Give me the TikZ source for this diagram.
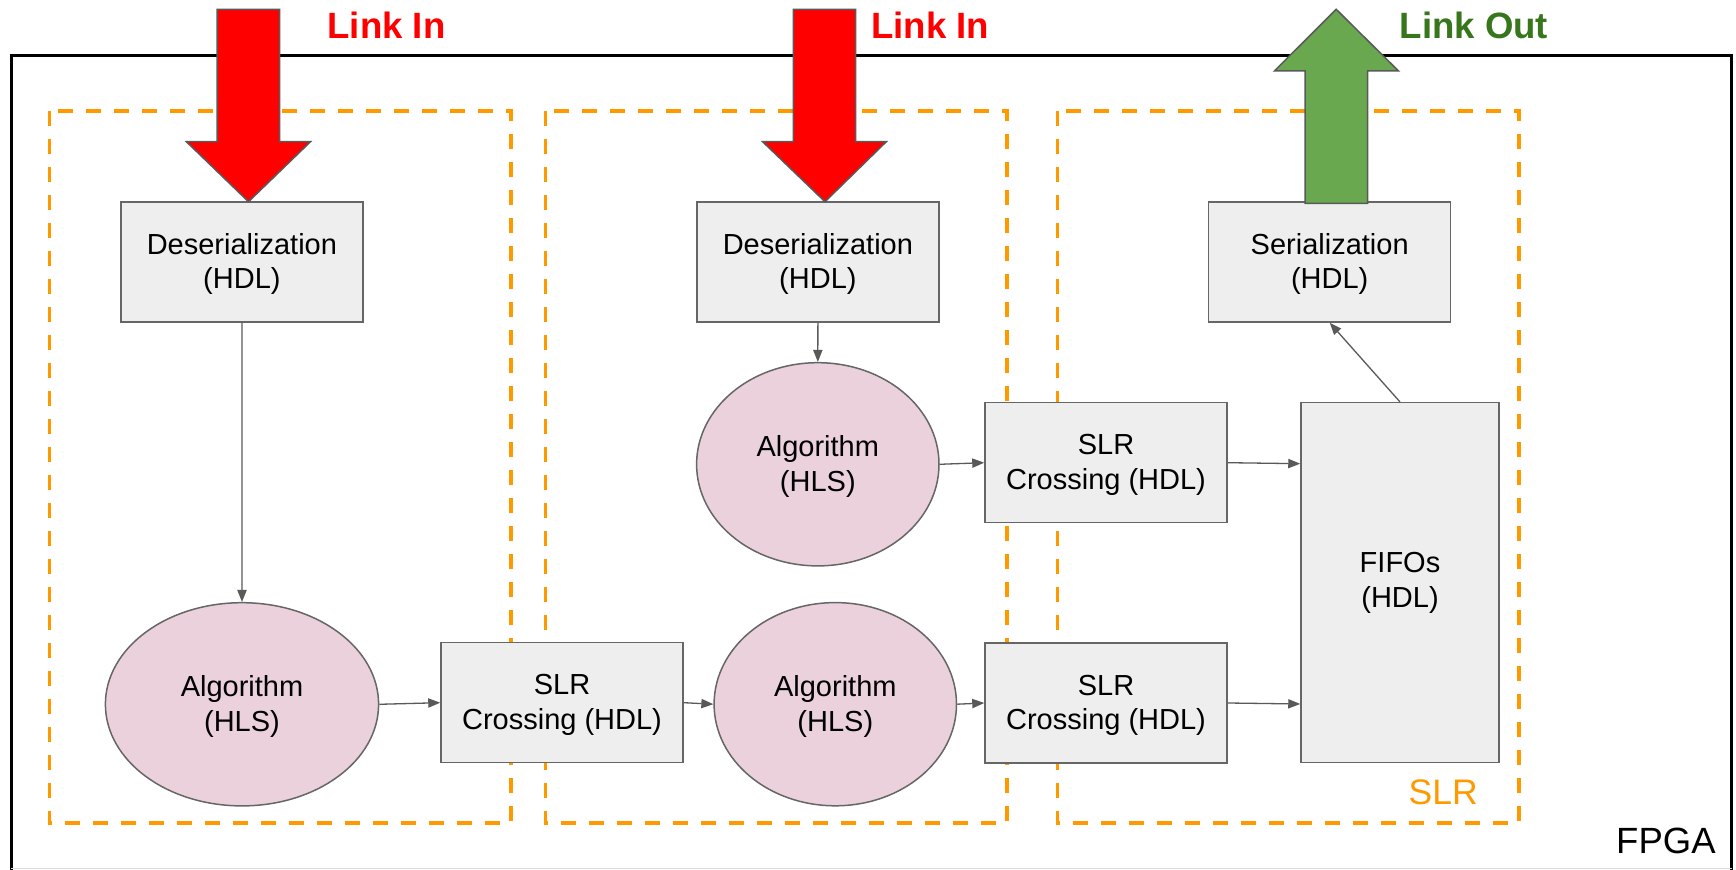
\documentclass[tikz,border=0pt]{standalone}
\usepackage{fontspec}
\setmainfont{Liberation Sans}
\usetikzlibrary{arrows.meta,shapes.geometric}

\definecolor{boxfill}{HTML}{EEEEEE}
\definecolor{boxline}{HTML}{666666}
\definecolor{ellfill}{HTML}{EAD1DC}
\definecolor{linegray}{HTML}{595959}
\definecolor{slrorange}{HTML}{FF9900}
\definecolor{linkred}{HTML}{FF0000}
\definecolor{outfill}{HTML}{6AA84F}
\definecolor{outtext}{HTML}{38761D}

\newcommand\blockfont{\fontsize{14.5}{17.4}\selectfont}
\newcommand\linkfont{\fontsize{18.3}{22}\selectfont\bfseries}
% taller first line so that two-line labels sit centred on their caps
\newcommand\toplift{\rule{0pt}{12.5pt}}

\begin{document}
\begin{tikzpicture}[x=0.5pt,y=-0.5pt,
  blockbox/.style={draw=boxline, fill=boxfill, line width=0.75pt,
    minimum width=121pt, minimum height=60pt, inner sep=0pt,
    align=center, font=\blockfont},
  algell/.style={ellipse, draw=boxline, fill=ellfill, line width=0.75pt,
    inner sep=0pt, minimum width=121.2pt, minimum height=101.6pt,
    align=center, font=\blockfont},
  flow/.style={draw=linegray, line width=0.65pt,
    -{Triangle[length=6pt,width=4.6pt]}},
  slrbox/.style={draw=slrorange, line width=1.8pt,
    dash pattern=on 7.5pt off 6.5pt},
  bigarrow/.style={draw=linegray, line width=0.75pt, line join=miter},
  biglabel/.style={font=\linkfont, inner sep=0pt, anchor=base west},
]
\useasboundingbox (0,0) rectangle (1736,870);

% FPGA outline (the lower edge runs off the page)
\draw[line width=1.6pt] (11.3,880) -- (11.3,55.7) -- (1731.5,55.7) -- (1731.5,880);
\draw[line width=0.6pt, black!15] (11.3,868.6) -- (1731.5,868.6);

% SLR regions
\draw[slrbox] (49.5,111) rectangle (511,823.3);
\draw[slrbox] (545.4,111) rectangle (1007,823.3);
\draw[slrbox] (1057.5,111) rectangle (1519,823.3);

% processing blocks
\node[blockbox] (deser1) at (241.9,262) {\toplift Deserialization\\(HDL)};
\node[blockbox] (deser2) at (817.9,262) {\toplift Deserialization\\(HDL)};
\node[blockbox] (ser)    at (1329.7,262) {\toplift Serialization\\(HDL)};

\node[algell, minimum width=136.6pt] (alg1) at (242,704.3) {\toplift Algorithm\\(HLS)};
\node[algell] (alg2) at (817.8,464.3) {\toplift Algorithm\\(HLS)};
\node[algell] (alg3) at (835.3,704.2) {\toplift Algorithm\\(HLS)};

\node[blockbox] (cross1) at (562,702.7) {\toplift SLR\\Crossing (HDL)};
\node[blockbox] (cross2) at (1106,462.7) {\toplift SLR\\Crossing (HDL)};
\node[blockbox] (cross3) at (1106,703) {\toplift SLR\\Crossing (HDL)};

\node[blockbox, minimum width=99pt, minimum height=179.8pt] (fifo) at (1400,582.5) {FIFOs\\(HDL)};

% data flow
\draw[flow] (deser1.south) -- (alg1.north);
\draw[flow] (alg1.east) -- (cross1.west);
\draw[flow] (cross1.east) -- (alg3.west);
\draw[flow] (alg3.east) -- (cross3.west);
\draw[flow] (deser2.south) -- (alg2.north);
\draw[flow] (alg2.east) -- (cross2.west);
\draw[flow] (cross2.east) -- ([yshift=-0.5pt]cross2.east -| fifo.west);
\draw[flow] (cross3.east) -- ([yshift=-0.5pt]cross3.east -| fifo.west);
\draw[flow] (fifo.north) -- (ser.south);

% external links
\draw[bigarrow, fill=linkred] (217,9.3) -- (279.7,9.3) -- (279.7,141.7) -- (310.5,141.7)
  -- (248.5,201.7) -- (186.4,141.7) -- (217,141.7) -- cycle;
\draw[bigarrow, fill=linkred] (793.3,9.3) -- (855.6,9.3) -- (855.6,141.7) -- (886.3,141.7)
  -- (825,201.7) -- (762.6,141.7) -- (793.3,141.7) -- cycle;
\draw[bigarrow, fill=outfill] (1336.2,9.3) -- (1398.5,71) -- (1367.5,71) -- (1367.5,203.3)
  -- (1305,203.3) -- (1305,71) -- (1274.4,71) -- cycle;

\node[biglabel, text=linkred] (in1lbl) at (327.2,38.3) {Link In};
\node[biglabel, text=linkred] (in2lbl) at (871,38.3) {Link In};
\node[biglabel, text=outtext] (outlbl) at (1399.3,38.3) {Link Out};

% region captions
\node[font=\fontsize{17.75}{21}\selectfont, text=slrorange, inner sep=0pt, anchor=base west]
  (slrlbl) at (1408.3,804.3) {SLR};
\node[font=\fontsize{18.25}{22}\selectfont, inner sep=0pt, anchor=base east]
  (fpgalbl) at (1716,853.3) {FPGA};
\end{tikzpicture}
\end{document}
